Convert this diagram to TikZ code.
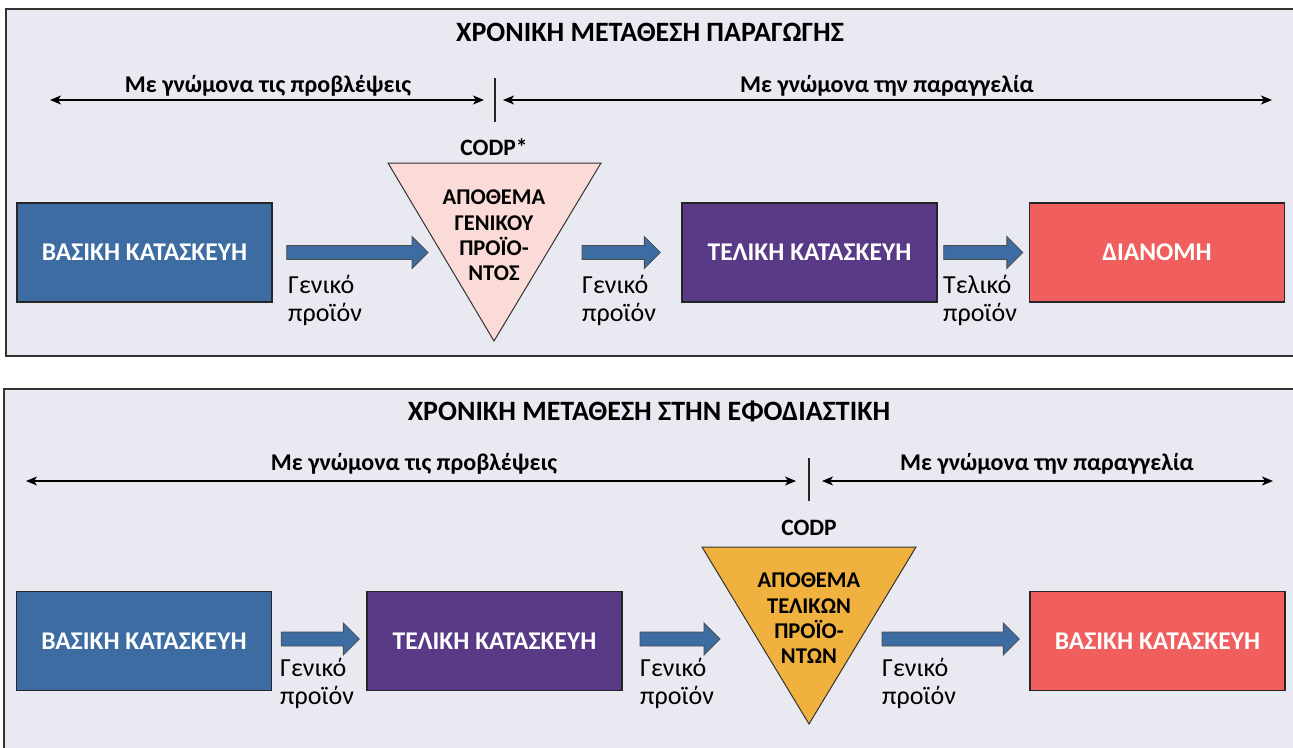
\documentclass[tikz,border=0pt]{standalone}
\usepackage{fontspec}
\setmainfont{Carlito}
\usetikzlibrary{calc,arrows.meta}

\definecolor{panelbg}{RGB}{233,233,241}
\definecolor{stageblue}{RGB}{61,108,163}
\definecolor{stagepurple}{RGB}{88,58,135}
\definecolor{stagered}{RGB}{240,94,93}
\definecolor{stockpink}{RGB}{250,219,216}
\definecolor{stockorange}{RGB}{240,177,62}

\tikzset{
  panel/.style={draw=black!80, line width=1.2pt, fill=panelbg},
  stage/.style={draw=black!85, line width=1.3pt, minimum width=255pt, minimum height=99pt,
    inner sep=0pt, text=white, font=\fontsize{25.5}{30}\selectfont\bfseries},
  heading/.style={font=\fontsize{28}{33}\selectfont\bfseries, anchor=base, inner sep=0pt},
  spanlabel/.style={font=\fontsize{24}{28}\selectfont\bfseries, anchor=base, inner sep=0pt},
  dimline/.style={line width=1.2pt, {Stealth[length=11pt,width=9pt,inset=3pt]}-{Stealth[length=11pt,width=9pt,inset=3pt]}},
  tick/.style={line width=1.2pt, draw=black!85},
  flowlabel/.style={font=\fontsize{26}{28}\selectfont, align=left, anchor=north west, inner sep=0pt},
  fat/.style={draw=black!70, line width=0.8pt, fill=stageblue},
  stock/.style={draw=black!80, line width=1pt},
  stocktext/.style={font=\fontsize{22.5}{25.3}\selectfont\bfseries, align=center, inner sep=0pt},
  codp/.style={font=\fontsize{23.5}{27}\selectfont\bfseries, anchor=base, inner sep=0pt}
}

% block arrow from point #1 to tip #2 (horizontal)
\newcommand\fatflow[2]{%
  \draw[fat] ($(#1)+(0,-7)$) -- ($(#2)+(-16,-7)$) -- ($(#2)+(-16,-16)$) -- (#2)
    -- ($(#2)+(-16,16)$) -- ($(#2)+(-16,7)$) -- ($(#1)+(0,7)$) -- cycle;}

\begin{document}
\begin{tikzpicture}[x=1pt,y=-1pt]
\useasboundingbox (0,0) rectangle (1293,747);

% ---------- production panel ----------
\draw[panel] (6,9) rectangle (1310,356);
\node[heading] (h1) at (650,41.5) {ΧΡΟΝΙΚΗ ΜΕΤΑΘΕΣΗ ΠΑΡΑΓΩΓΗΣ};

\coordinate (d1a) at (50,100);  \coordinate (d1b) at (484,100);
\coordinate (d1c) at (503,100); \coordinate (d1d) at (1272,100);
\coordinate (k1a) at (495,78);  \coordinate (k1b) at (495,122);
\draw[dimline] (d1a) -- (d1b);
\draw[dimline] (d1c) -- (d1d);
\draw[tick] (k1a) -- (k1b);
\node[spanlabel] (s1) at (268,92) {Με γνώμονα τις προβλέψεις};
\node[spanlabel] (s2) at (887,92) {Με γνώμονα την παραγγελία};
\node[codp] (cp1) at (494,155) {CODP*};

\coordinate (t1a) at (388,163); \coordinate (t1b) at (601,163); \coordinate (t1c) at (494,341);
\draw[stock, fill=stockpink] (t1a) -- (t1b) -- (t1c) -- cycle;
\node[stocktext] (st1) at (494,235.5) {ΑΠΟΘΕΜΑ\\ΓΕΝΙΚΟΥ\\ΠΡΟΪΟ-\\ΝΤΟΣ};

\node[stage, fill=stageblue]   (b1) at (144.5,252.5) {ΒΑΣΙΚΗ ΚΑΤΑΣΚΕΥΗ};
\node[stage, fill=stagepurple] (b2) at (809.5,252.5) {ΤΕΛΙΚΗ ΚΑΤΑΣΚΕΥΗ};
\node[stage, fill=stagered]    (b3) at (1157,252.5)  {ΔΙΑΝΟΜΗ};

\coordinate (f1a) at ($(b1.east)+(14,0)$); \coordinate (f1b) at (428,252.5);
\coordinate (f2a) at (582,252.5);          \coordinate (f2b) at ($(b2.west)+(-21,0)$);
\coordinate (f3a) at ($(b2.east)+(6,0)$);  \coordinate (f3b) at ($(b3.west)+(-6,0)$);
\fatflow{f1a}{f1b}
\fatflow{f2a}{f2b}
\fatflow{f3a}{f3b}

\node[flowlabel] (l1) at (288,275) {Γενικό\\προϊόν};
\node[flowlabel] (l2) at (582,275) {Γενικό\\προϊόν};
\node[flowlabel] (l3) at (943,275) {Τελικό\\προϊόν};

% ---------- logistics panel ----------
\draw[panel] (4,389) rectangle (1310,770);
\node[heading] (h2) at (649,420.5) {ΧΡΟΝΙΚΗ ΜΕΤΑΘΕΣΗ ΣΤΗΝ ΕΦΟΔΙΑΣΤΙΚΗ};

\coordinate (d2a) at (26,481);  \coordinate (d2b) at (796,481);
\coordinate (d2c) at (822,481); \coordinate (d2d) at (1273,481);
\coordinate (k2a) at (809,458); \coordinate (k2b) at (809,501);
\draw[dimline] (d2a) -- (d2b);
\draw[dimline] (d2c) -- (d2d);
\draw[tick] (k2a) -- (k2b);
\node[spanlabel] (s3) at (414,470) {Με γνώμονα τις προβλέψεις};
\node[spanlabel] (s4) at (1047,470) {Με γνώμονα την παραγγελία};
\node[codp] (cp2) at (809,535) {CODP};

\coordinate (t2a) at (702,547); \coordinate (t2b) at (916,547); \coordinate (t2c) at (809,724);
\draw[stock, fill=stockorange] (t2a) -- (t2b) -- (t2c) -- cycle;
\node[stocktext] (st2) at (809,618.5) {ΑΠΟΘΕΜΑ\\ΤΕΛΙΚΩΝ\\ΠΡΟΪΟ-\\ΝΤΩΝ};

\node[stage, fill=stageblue]   (c1) at (144,641)    {ΒΑΣΙΚΗ ΚΑΤΑΣΚΕΥΗ};
\node[stage, fill=stagepurple] (c2) at (494.5,641)  {ΤΕΛΙΚΗ ΚΑΤΑΣΚΕΥΗ};
\node[stage, fill=stagered]    (c3) at (1157.5,641) {ΒΑΣΙΚΗ ΚΑΤΑΣΚΕΥΗ};

\coordinate (g1a) at ($(c1.east)+(9,-2)$); \coordinate (g1b) at ($(c2.west)+(-7,-2)$);
\coordinate (g2a) at (640,639);            \coordinate (g2b) at (720,639);
\coordinate (g3a) at (882,639);            \coordinate (g3b) at ($(c3.west)+(-10,-2)$);
\fatflow{g1a}{g1b}
\fatflow{g2a}{g2b}
\fatflow{g3a}{g3b}

\node[flowlabel] (m1) at (280,658) {Γενικό\\προϊόν};
\node[flowlabel] (m2) at (640,658) {Γενικό\\προϊόν};
\node[flowlabel] (m3) at (882,658) {Γενικό\\προϊόν};
\end{tikzpicture}
\end{document}
